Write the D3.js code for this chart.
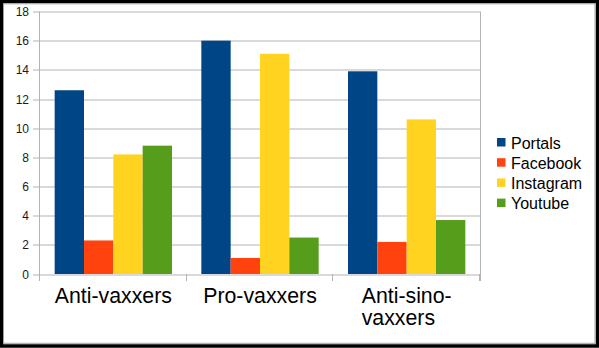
<!DOCTYPE html>
<html>
<head>
<meta charset="utf-8">
<script src="https://cdn.jsdelivr.net/npm/d3@7"></script>
<style>
  html, body { margin: 0; padding: 0; background: #fff; }
  svg { display: block; font-family: "Liberation Sans", Arial, sans-serif; }
</style>
</head>
<body>
<svg id="chart" width="599" height="348"></svg>
<script>
// data
const categories = ['Anti-vaxxers', 'Pro-vaxxers', 'Anti-sino-vaxxers'];
const seriesNames = ['Portals', 'Facebook', 'Instagram', 'Youtube'];
const portals = [12.6, 16, 13.9];
const facebook = [2.3, 1.1, 2.2];
const instagram = [8.2, 15.1, 10.6];
const youtube = [8.8, 2.5, 3.7];
const yTicks = [0, 2, 4, 6, 8, 10, 12, 14, 16, 18];
const colors = ['#004586', '#ff420e', '#ffd320', '#579d1c'];

// label lines (wrapped as in the picture)
const categoryLines = [['Anti-vaxxers'], ['Pro-vaxxers'], ['Anti-sino-', 'vaxxers']];

const width = 599, height = 348;
const margin = { top: 11.5, right: 119, bottom: 74, left: 40 };
const boundsWidth = width - margin.left - margin.right;
const boundsHeight = height - margin.top - margin.bottom;

const svg = d3.select('#chart');

// outer frame
svg.append('rect')
  .attr('x', 1.5).attr('y', 1.5)
  .attr('width', width - 3).attr('height', height - 3.5)
  .attr('fill', '#fff').attr('stroke', '#000').attr('stroke-width', 3.5);
svg.append('rect')
  .attr('x', 3.5).attr('y', 3.8)
  .attr('width', width - 7.5).attr('height', height - 8.5)
  .attr('fill', 'none').attr('stroke', '#a0a0a0').attr('stroke-width', 1);

const scaleX = d3.scaleBand()
  .domain(categories)
  .range([0, boundsWidth])
  .padding(0);

const scaleSeries = d3.scaleBand()
  .domain(seriesNames)
  .range([scaleX.bandwidth() * 0.1, scaleX.bandwidth() * 0.9])
  .padding(0);

const scaleY = d3.scaleLinear()
  .domain([0, 18])
  .range([boundsHeight, 0]);

const g = svg.append('g')
  .attr('transform', `translate(${margin.left}, ${margin.top})`);

// gridlines + y tick labels
g.selectAll('.grid')
  .data(yTicks)
  .enter()
  .append('line')
  .attr('x1', -7).attr('x2', boundsWidth)
  .attr('y1', d => Math.round(scaleY(d)) + 0.5)
  .attr('y2', d => Math.round(scaleY(d)) + 0.5)
  .attr('stroke', '#b3b3b3').attr('stroke-width', 1);

g.selectAll('.ylab')
  .data(yTicks)
  .enter()
  .append('text')
  .attr('x', -11)
  .attr('y', d => scaleY(d) + 4.5)
  .attr('text-anchor', 'end')
  .style('font-size', '12px')
  .style('fill', '#1a1a1a')
  .text(d => d);

// plot borders
g.append('line')
  .attr('x1', -0.5).attr('x2', -0.5).attr('y1', 0).attr('y2', boundsHeight)
  .attr('stroke', '#b3b3b3');
g.append('line')
  .attr('x1', boundsWidth + 0.5).attr('x2', boundsWidth + 0.5).attr('y1', 0).attr('y2', boundsHeight + 7)
  .attr('stroke', '#b3b3b3');

// x category separators (ticks below axis)
const xTickPos = categories.map(c => scaleX(c)).concat([boundsWidth]);
g.selectAll('.xtick')
  .data(xTickPos)
  .enter()
  .append('line')
  .attr('x1', d => Math.round(d) - 0.5).attr('x2', d => Math.round(d) - 0.5)
  .attr('y1', boundsHeight).attr('y2', boundsHeight + 7)
  .attr('stroke', '#b3b3b3');

// bars
const seriesValues = [portals, facebook, instagram, youtube];
seriesValues.forEach((values, si) => {
  g.selectAll(`.bar-${si}`)
    .data(categories)
    .enter()
    .append('rect')
    .attr('class', `bar-${si}`)
    .attr('x', (d) => scaleX(d) + scaleSeries(seriesNames[si]))
    .attr('y', (d, i) => scaleY(values[i]))
    .attr('width', scaleSeries.bandwidth())
    .attr('height', (d, i) => boundsHeight - scaleY(values[i]))
    .style('fill', colors[si]);
});

// x labels (block centred, lines left aligned)
categories.forEach((c, i) => {
  const lines = categoryLines[i];
  const t = g.append('text')
    .style('font-size', '21.3px')
    .style('fill', '#000');
  lines.forEach((ln, li) => {
    t.append('tspan')
      .attr('x', 0)
      .attr('y', boundsHeight + 29.3 + li * 22)
      .text(ln);
  });
  const w = t.node().getBBox().width;
  const cx = scaleX(c) + scaleX.bandwidth() / 2;
  t.selectAll('tspan').attr('x', cx - w / 2);
});

// legend
const legend = svg.append('g')
  .attr('transform', 'translate(497, 138)');
seriesNames.forEach((name, i) => {
  legend.append('rect')
    .attr('x', 0).attr('y', i * 20.2)
    .attr('width', 8.5).attr('height', 8.5)
    .style('fill', colors[i]);
  legend.append('text')
    .attr('x', 14).attr('y', i * 20.2 + 10.5)
    .style('font-size', '16px')
    .style('fill', '#000')
    .text(name);
});
</script>
</body>
</html>
